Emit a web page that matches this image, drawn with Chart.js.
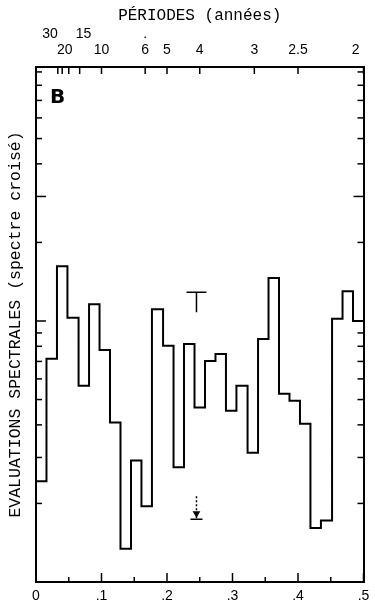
<!DOCTYPE html>
<html>
<head>
<meta charset="utf-8">
<script src="https://cdn.jsdelivr.net/npm/chart.js@4/dist/chart.umd.min.js"></script>
<style>
    html, body { margin: 0; padding: 0; background: #fff; }
    #wrap { position: relative; width: 375px; height: 609px; }
    #panel {
        position: absolute; left: 50px; top: 86px;
        font: bold 20px 'DejaVu Sans', sans-serif; line-height: 20px; color: #000;
    }
</style>
</head>
<body>
<div id="wrap">
    <canvas id="spectre"></canvas>
    <div id="panel">B</div>
</div>
<script>
// bords des bandes de fréquence (cycles/an)
const binEdges = [0, 0.016, 0.032, 0.048, 0.065, 0.081, 0.097, 0.113, 0.129, 0.145, 0.161,
    0.177, 0.194, 0.210, 0.226, 0.242, 0.258, 0.274, 0.290, 0.306, 0.323,
    0.339, 0.355, 0.371, 0.387, 0.403, 0.419, 0.435, 0.452, 0.468, 0.484, 0.5];

// estimation spectrale (échelle log) par bande
const spectrum = [0.243, 0.716, 1.62, 1.03, 0.565, 1.16, 0.775, 0.408, 0.134, 0.292, 0.195,
    1.11, 0.803, 0.275, 0.817, 0.466, 0.703, 0.748, 0.453, 0.565, 0.313,
    0.854, 1.46, 0.526, 0.495, 0.404, 0.161, 0.172, 1.02, 1.30, 1.00];

// intervalle de confiance
const errFreq = 0.245;
const errUpper = [1.29, 1.08];
const errLower = [0.213, 0.183, 0.174];

// axe du bas
const freqTicks = [0, 0.05, 0.1, 0.15, 0.2, 0.25, 0.3, 0.35, 0.4, 0.45, 0.5];
const freqLabels = ['0', '', '.1', '', '.2', '', '.3', '', '.4', '', '.5'];

// axe du haut (périodes)
const periods = [30, 25, 20, 15, 10, 6, 5, 4, 3, 2.5, 2];
const periodLabels = [['30    ', ''], '', '20  ', ['  15', ''], '10', ['.', '6'], '5', '4', '3', '2.5', '2    '];

// graduations log de l'axe vertical
const logTicks = [0.1, 0.2, 0.3, 0.4, 0.5, 0.6, 0.7, 0.8, 0.9, 1, 2, 3, 4, 5, 6, 7, 8, 9];

const tickFont = { family: "'Liberation Sans', sans-serif", size: 14 };
const monoFont = { family: "'Liberation Mono', monospace", size: 16 };

const innerTicks = {
    id: 'innerTicks',
    afterDraw(chart) {
        const ctx = chart.ctx;
        const area = chart.chartArea;
        const s = chart.scales;
        ctx.save();
        ctx.strokeStyle = '#000';
        ctx.lineWidth = 1.5;
        const seg = (x1, y1, x2, y2) => {
            ctx.beginPath();
            ctx.moveTo(x1, y1);
            ctx.lineTo(x2, y2);
            ctx.stroke();
        };
        s.x.ticks.forEach((t, i) => {
            const px = s.x.getPixelForValue(t.value);
            seg(px, area.bottom, px, area.bottom - (freqLabels[i] ? 9 : 5));
        });
        s.x2.ticks.forEach(t => {
            const px = s.x2.getPixelForValue(t.value);
            seg(px, area.top, px, area.top + 7);
        });
        s.y.ticks.forEach(t => {
            const py = s.y.getPixelForValue(t.value);
            const len = (t.value === 1 || t.value === 3) ? 10 : 6;
            seg(area.left, py, area.left + len, py);
        });
        s.y2.ticks.forEach(t => {
            const py = s.y2.getPixelForValue(t.value);
            const len = (t.value === 1 || t.value === 3) ? 10 : 6;
            seg(area.right, py, area.right - len, py);
        });
        ctx.restore();
    }
};

// pas de débordement des étiquettes sur les côtés
function fixHorizontal(height) {
    return scale => {
        scale.height = height;
        scale.paddingLeft = 0;
        scale.paddingRight = 0;
    };
}

const stepData = binEdges.map((x, i) => ({ x, y: spectrum[Math.min(i, spectrum.length - 1)] }));

new Chart(document.getElementById('spectre'), {
    type: 'line',
    data: {
        datasets: [
            {
                data: stepData,
                stepped: 'before',
                borderColor: '#000',
                borderWidth: 2,
                pointRadius: 0,
                fill: false
            },
            {
                data: errUpper.map(y => ({ x: errFreq, y })),
                borderColor: '#000',
                borderWidth: 1.5,
                pointStyle: 'line',
                pointRadius: [10, 0],
                pointBorderWidth: 1.5,
                pointBorderColor: '#000'
            },
            {
                data: errLower.map(y => ({ x: errFreq, y })),
                borderColor: '#000',
                borderWidth: 1.5,
                borderDash: [2, 2],
                pointStyle: ['circle', 'triangle', 'line'],
                pointRotation: [0, 180, 0],
                pointRadius: [0, 3, 6],
                pointBorderWidth: 1.5,
                pointBorderColor: '#000',
                pointBackgroundColor: '#000'
            }
        ]
    },
    options: {
        responsive: true,
        maintainAspectRatio: false,
        animation: false,
        layout: { padding: 0 },
        plugins: {
            legend: { display: false },
            tooltip: { enabled: false }
        },
        scales: {
            x: {
                type: 'linear',
                position: 'bottom',
                min: 0,
                max: 0.5,
                afterBuildTicks: scale => { scale.ticks = freqTicks.map(value => ({ value })); },
                afterFit: fixHorizontal(27),
                grid: { display: false, drawTicks: false },
                border: { display: true, color: '#000', width: 2 },
                ticks: {
                    autoSkip: false,
                    maxRotation: 0,
                    padding: 6,
                    color: '#000',
                    font: { ...tickFont, size: 14 },
                    callback: (value, index) => freqLabels[index]
                }
            },
            x2: {
                type: 'linear',
                position: 'top',
                min: 0,
                max: 0.5,
                afterBuildTicks: scale => { scale.ticks = periods.map(p => ({ value: 1 / p })); },
                afterFit: fixHorizontal(67),
                grid: { display: false, drawTicks: false },
                border: { display: true, color: '#000', width: 2 },
                title: {
                    display: true,
                    text: 'PÉRIODES (années)',
                    color: '#000',
                    font: monoFont,
                    padding: { top: 6, bottom: 0 }
                },
                ticks: {
                    autoSkip: false,
                    maxRotation: 0,
                    padding: 8,
                    color: '#000',
                    font: tickFont,
                    callback: (value, index) => periodLabels[index]
                }
            },
            y: {
                type: 'logarithmic',
                position: 'left',
                min: 0.1,
                max: 9.4,
                afterBuildTicks: scale => { scale.ticks = logTicks.map(value => ({ value })); },
                afterFit: scale => { scale.width = 36; },
                grid: { display: false, drawTicks: false },
                border: { display: true, color: '#000', width: 2 },
                title: {
                    display: true,
                    text: 'EVALUATIONS SPECTRALES (spectre croisé)',
                    color: '#000',
                    font: { ...monoFont, size: 16.5 },
                    padding: { top: 6, bottom: 0 }
                },
                ticks: { display: false }
            },
            y2: {
                type: 'logarithmic',
                position: 'right',
                min: 0.1,
                max: 9.4,
                afterBuildTicks: scale => { scale.ticks = logTicks.map(value => ({ value })); },
                afterFit: scale => { scale.width = 11; },
                grid: { display: false, drawTicks: false },
                border: { display: true, color: '#000', width: 2 },
                ticks: { display: false }
            }
        }
    },
    plugins: [innerTicks]
});
</script>
</body>
</html>
